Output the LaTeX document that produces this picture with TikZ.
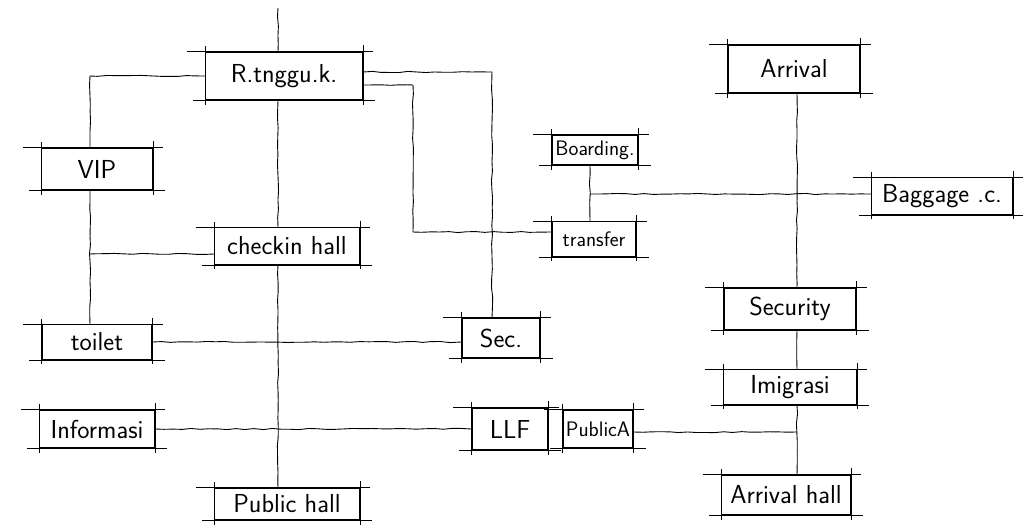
\documentclass[tikz,border=0pt]{standalone}
\usepackage{fontspec}
\usetikzlibrary{decorations.pathmorphing}
\begin{document}
\begin{tikzpicture}[x=1pt,y=-1pt,
        ext/.style={line width=0.7pt},
        room/.style={draw, line width=1.3pt, inner sep=0pt,
            font=\sffamily\fontsize{26}{28}\selectfont,
            append after command={
                (\tikzlastnode.north west) edge[ext, shorten <=-18pt, shorten >=-10pt] (\tikzlastnode.north east)
                (\tikzlastnode.south west) edge[ext, shorten <=-12pt, shorten >=-12pt] (\tikzlastnode.south east)
                (\tikzlastnode.north west) edge[ext, shorten <=-5pt, shorten >=-4pt] (\tikzlastnode.south west)
                (\tikzlastnode.north east) edge[ext, shorten <=-6pt, shorten >=-4pt] (\tikzlastnode.south east)}},
        smallroom/.style={room, font=\sffamily\fontsize{21}{23}\selectfont},
        link/.style={line width=0.9pt, decorate,
            decoration={random steps, segment length=9pt, amplitude=0.6pt}}]

        \useasboundingbox (0,0) rectangle (1023,527);

        % departure side
        \node[room, minimum width=157pt, minimum height=48pt] (rtk) at (284,76) {R.tnggu.k.};
        \node[room, minimum width=111pt, minimum height=42pt] (vip) at (97,169) {VIP};
        \node[room, minimum width=145pt, minimum height=37pt] (checkin) at (287,246) {checkin hall};
        \node[room, minimum width=110pt, minimum height=35pt] (toilet) at (97,342) {toilet};
        \node[room, minimum width=115pt, minimum height=38pt] (info) at (97,429) {Informasi};
        \node[room, minimum width=145pt, minimum height=32pt] (public) at (287,504) {Public hall};
        \node[room, minimum width=78pt, minimum height=40pt] (sec) at (501,338) {Sec.};
        \node[room, minimum width=76pt, minimum height=42pt] (llf) at (510,429) {LLF};
        \node[smallroom, minimum width=70pt, minimum height=38pt] (publica) at (598,429) {PublicA};
        \node[smallroom, minimum width=86pt, minimum height=30pt] (boarding) at (595,150) {Boarding.};
        \node[smallroom, minimum width=84pt, minimum height=35pt] (transfer) at (594,239) {transfer};

        % arrival side
        \node[room, minimum width=132pt, minimum height=48pt] (arrival) at (794,69) {Arrival};
        \node[room, minimum width=141pt, minimum height=37pt] (baggage) at (942,196) {Baggage .c.};
        \node[room, minimum width=132pt, minimum height=42pt] (security) at (790,309) {Security};
        \node[room, minimum width=133pt, minimum height=35pt] (imigrasi) at (790,387) {Imigrasi};
        \node[room, minimum width=129pt, minimum height=40pt] (arrhall) at (786,495) {Arrival hall};

        % main spine
        \coordinate (top) at (278,8);
        \draw[link] (top) -- (top |- rtk.north);
        \draw[link] (rtk.south -| top) -- (top |- checkin.north);
        \draw[link] (checkin.south -| top) -- (top |- public.north);

        % left branch
        \coordinate (lt) at (90,0);
        \draw[link] (rtk.west) -- (rtk.west -| lt) -- (lt |- vip.north);
        \draw[link] (lt |- vip.south) -- (lt |- toilet.north);
        \draw[link] ([yshift=-8pt]checkin.west) -- ([yshift=-8pt]checkin.west -| lt);

        % right branches
        \coordinate (rsec) at (492,0);
        \coordinate (rtr) at (413,0);
        \draw[link] ([yshift=4pt]rtk.east) -- ([yshift=4pt]rtk.east -| rsec) -- (rsec |- sec.north);
        \draw[link] ([yshift=-9pt]rtk.east) -- ([yshift=-9pt]rtk.east -| rtr)
            -- ([yshift=7pt]transfer.west -| rtr) -- ([yshift=7pt]transfer.west);
        \draw[link] (toilet.east) -- (toilet.east -| sec.west);
        \draw[link] (info.east) -- (info.east -| llf.west);

        % arrival spine
        \coordinate (arr) at (797,0);
        \draw[link] (arrival.south -| arr) -- (arr |- security.north);
        \draw[link] (security.south -| arr) -- (arr |- imigrasi.north);
        \draw[link] (imigrasi.south -| arr) -- (arr |- arrhall.north);
        \draw[link] ([yshift=-3pt]publica.east) -- ([yshift=-3pt]publica.east -| arr);

        % transfer link
        \coordinate (bj) at (590,194);
        \draw[link] (boarding.south -| bj) -- (bj |- transfer.north);
        \draw[link] (bj) -- (bj -| baggage.west);
    \end{tikzpicture}
\end{document}
